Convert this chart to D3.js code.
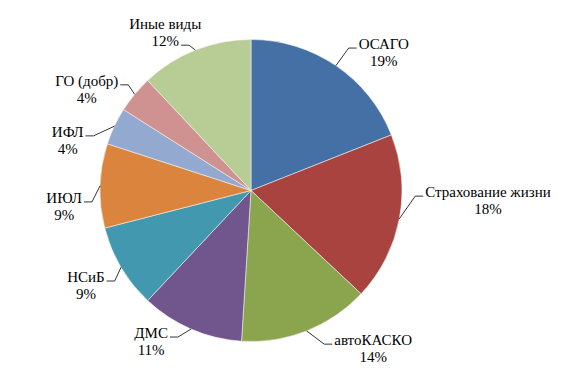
<!DOCTYPE html>
<html>
<head>
<meta charset="utf-8">
<script src="https://cdn.jsdelivr.net/npm/d3@7"></script>
<style>
  body { margin: 0; background: #fff; }
  svg text { font-family: "Times New Roman", "Liberation Serif", Tinos, serif; font-size: 15px; }
</style>
</head>
<body>
<div id="chart"></div>
<script>
// DATA
var categories = ["ОСАГО", "Страхование жизни", "автоКАСКО", "ДМС", "НСиБ", "ИЮЛ", "ИФЛ", "ГО (добр)", "Иные виды"];
var shares = [19, 18, 14, 11, 9, 9, 4, 4, 12];
var colors = ["#4470A5", "#A9433F", "#8AA54E", "#71568E", "#4198AF", "#DB843D", "#94A9D0", "#D09290", "#B8CD96"];

// LABEL LAYOUT (polar from pie centre: angle deg, distance / radius, leader attach line)
var labelAngle = [43.2, 91.6, 141.7, 214.1, 241, 266.2, 286.3, 302.5, 332];
var labelDist = [1.285, 1.57, 1.305, 1.18, 1.25, 1.24, 1.265, 1.29, 1.21];
var labelAttach = [0, 0, 0, 0, 0, 0, 0, 0, 1];

// SETUP SVG
var width = 584, height = 383;
var cx = 251, cy = 190.5, radius = 151;
var lineH = 17;

var svg = d3.select("#chart")
  .append("svg")
  .attr("width", width)
  .attr("height", height);

var data = categories.map(function(c, i) {
  return { name: c, value: shares[i], color: colors[i] };
});

var pie = d3.pie()
  .sort(null)
  .value(function(d) { return d.value; });

var arc = d3.arc()
  .innerRadius(0)
  .outerRadius(radius);

var arcs = pie(data);

var g = svg.append("g")
  .attr("transform", "translate(" + cx + "," + cy + ")");

// SLICES
g.selectAll("path")
  .data(arcs)
  .enter()
  .append("path")
  .attr("d", arc)
  .attr("fill", function(d) { return d.data.color; })
  .attr("stroke", "#eef0f0")
  .attr("stroke-width", 0.6);

function polar(angDeg, r) {
  var a = angDeg * Math.PI / 180;
  return [r * Math.sin(a), -r * Math.cos(a)];
}

function addText(x, y, s) {
  return g.append("text")
    .attr("x", x).attr("y", y)
    .attr("text-anchor", "middle")
    .attr("font-family", "Times New Roman, Liberation Serif, serif")
    .attr("font-size", 15)
    .attr("fill", "#000")
    .text(s);
}

// LABELS + LEADERS
arcs.forEach(function(d, i) {
  var p = polar(labelAngle[i], labelDist[i] * radius);
  var t1 = addText(p[0], p[1], d.data.name);
  var t2 = addText(p[0], p[1] + lineH, d.data.value + "%");

  var t = labelAttach[i] === 0 ? t1 : t2;
  var w = t.node().getComputedTextLength();
  var ly = (labelAttach[i] === 0 ? p[1] : p[1] + lineH) - 1;
  var right = p[0] > 0;
  var ex = right ? p[0] - w / 2 - 2 : p[0] + w / 2 + 2;
  var bx = right ? ex - 8 : ex + 8;
  var mid = (d.startAngle + d.endAngle) / 2;
  var ax = radius * Math.sin(mid), ay = -radius * Math.cos(mid);

  g.append("path")
    .attr("d", d3.line()([[ax, ay], [bx, ly], [ex, ly]]))
    .attr("fill", "none")
    .attr("stroke", "#000")
    .attr("stroke-width", 0.8);
});
</script>
</body>
</html>
